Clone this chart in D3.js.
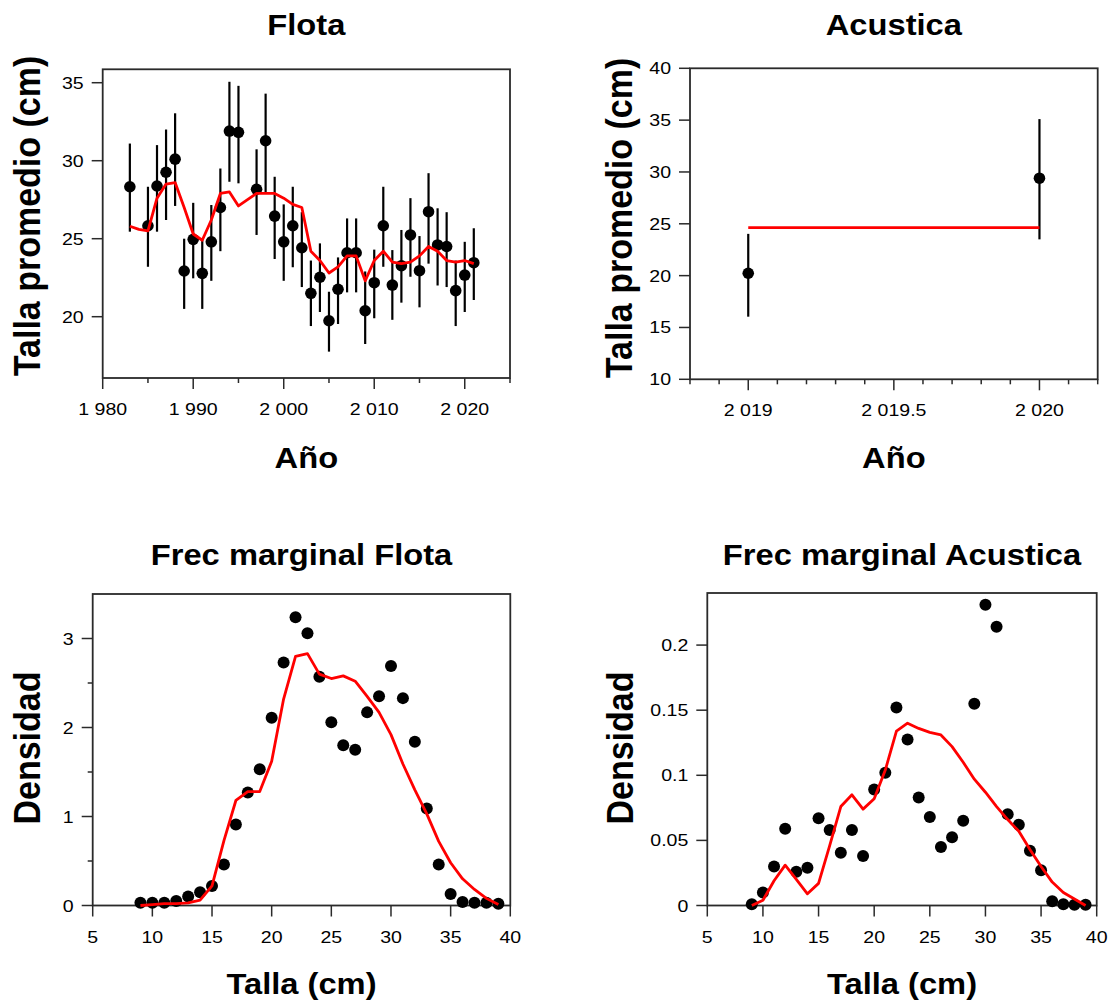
<!DOCTYPE html>
<html><head><meta charset="utf-8">
<script src="https://cdn.jsdelivr.net/npm/d3@7"></script>
<style>
body{margin:0;background:#fff}
svg{display:block}
text{font-family:"Liberation Sans",Arial,Helvetica,sans-serif;fill:#000}
</style></head>
<body><svg id="c" width="1113" height="1008"></svg>
<script>
// ---------- DATA ----------
const flotaYears = [1983,1985,1986,1987,1988,1989,1990,1991,1992,1993,1994,1995,1997,1998,1999,2000,2001,2002,2003,2004,2005,2006,2007,2008,2009,2010,2011,2012,2013,2014,2015,2016,2017,2018,2019,2020,2021];
const flotaMean  = [28.33,25.83,28.38,29.26,30.1,22.93,24.96,22.78,24.8,27.0,31.9,31.82,28.17,31.28,26.45,24.8,25.83,24.42,21.5,22.53,19.74,21.76,24.1,24.1,20.38,22.18,25.83,22.03,23.27,25.24,22.95,26.73,24.6,24.5,21.67,22.67,23.46];
const flotaUpper = [31.1,28.33,31.0,32.0,33.04,25.0,27.3,24.9,27.16,29.5,35.06,34.8,30.73,34.3,28.97,27.2,28.33,26.7,23.6,24.7,21.6,23.8,26.3,26.3,22.9,24.3,28.33,24.27,25.56,27.6,25.17,29.2,26.95,26.7,23.6,24.8,25.67];
const flotaLower = [25.45,23.2,25.45,26.2,27.1,20.5,22.46,20.5,22.3,24.2,28.65,28.55,25.24,27.9,23.7,22.3,23.17,21.9,19.4,20.3,17.76,19.53,21.56,21.56,18.25,19.9,23.2,19.8,20.9,22.56,20.6,23.4,22.0,21.9,19.4,20.3,21.07];
const flotaModelYears = [1983,1984,1985,1986,1987,1988,1989,1990,1991,1992,1993,1994,1995,1996,1997,1998,1999,2000,2001,2002,2003,2004,2005,2006,2007,2008,2009,2010,2011,2012,2013,2014,2015,2016,2017,2018,2019,2020,2021];
const flotaModel = [25.8,25.6,25.5,27.6,28.5,28.6,27.0,25.3,24.9,26.2,27.9,28.0,27.1,27.5,27.9,27.9,27.9,27.6,27.2,27.0,24.2,23.6,22.8,23.2,23.9,23.9,22.3,23.6,24.2,23.5,23.4,23.5,23.9,24.5,24.2,23.6,23.5,23.6,23.4];

const acuYears = [2019,2020];
const acuMean  = [20.23,29.4];
const acuUpper = [24.03,35.1];
const acuLower = [16.04,23.5];
const acuModel = [24.63,24.63];

const tallas = [9,10,11,12,13,14,15,16,17,18,19,20,21,22,23,24,25,26,27,28,29,30,31,32,33,34,35,36,37,38,39];
const flotaObs = [0.03,0.03,0.03,0.05,0.10,0.15,0.22,0.46,0.91,1.27,1.53,2.11,2.73,3.24,3.06,2.57,2.06,1.80,1.75,2.17,2.35,2.69,2.33,1.84,1.09,0.46,0.13,0.04,0.03,0.03,0.02];
const flotaFit = [0.00,0.01,0.02,0.02,0.03,0.06,0.22,0.73,1.18,1.28,1.28,1.62,2.32,2.80,2.83,2.60,2.55,2.58,2.52,2.35,2.17,1.92,1.59,1.30,1.03,0.72,0.48,0.30,0.18,0.08,0.01];
const acuObs = [0.001,0.010,0.030,0.059,0.026,0.029,0.067,0.058,0.0405,0.058,0.038,0.089,0.102,0.152,0.1275,0.083,0.068,0.045,0.0525,0.065,0.155,0.231,0.214,0.070,0.062,0.042,0.027,0.0033,0.001,0.0005,0.0005];
const acuFit = [0.000,0.004,0.019,0.031,0.020,0.009,0.017,0.046,0.076,0.085,0.074,0.082,0.104,0.134,0.140,0.136,0.133,0.131,0.122,0.110,0.097,0.087,0.076,0.066,0.057,0.043,0.030,0.018,0.010,0.005,0.000];

// tick values
const yearMajor = [1980,1990,2000,2010,2020];
const yearMinor = [1985,1995,2005,2015,2025];
const tallaPromTicksA = [20,25,30,35];
const acuYearMajor = [2019,2019.5,2020];
const acuYearMinor = [2018.8,2018.9,2019.1,2019.2,2019.3,2019.4,2019.6,2019.7,2019.8,2019.9,2020.1,2020.2];
const tallaPromTicksB = [10,15,20,25,30,35,40];
const tallaTicks = [5,10,15,20,25,30,35,40];
const densFlotaMajor = [0,1,2,3];
const densFlotaMinor = [0.5,1.5,2.5];
const densAcuMajor = [0,0.05,0.1,0.15,0.2];

// ---------- DRAW ----------
const svg = d3.select("#c");
const AX = "#2a2a2a";
const TICK_SX = 1.15, TITLE_SX = 1.09;

function spaced(v){
  const s = String(v);
  const parts = s.split(".");
  const ip = parts[0].replace(/\B(?=(\d{3})+(?!\d))/g, " ");
  return parts.length > 1 ? ip + "." + parts[1] : ip;
}

function panel(p){
  const x = d3.scaleLinear().domain(p.xDomain).range([p.left, p.right]);
  const y = d3.scaleLinear().domain(p.yDomain).range([p.bottom, p.top]);
  const g = svg.append("g");
  const ax = g.append("g");
  (p.xMinor||[]).forEach(v => ax.append("line").attr("x1",x(v)).attr("x2",x(v)).attr("y1",p.bottom).attr("y2",p.bottom+5).attr("stroke",AX).attr("stroke-width",1.5));
  p.xMajor.forEach(v => {
    ax.append("line").attr("x1",x(v)).attr("x2",x(v)).attr("y1",p.bottom).attr("y2",p.bottom+11).attr("stroke",AX).attr("stroke-width",1.5);
    ax.append("text").attr("transform",`translate(${x(v)},${p.bottom+37}) scale(${TICK_SX},1)`)
      .attr("text-anchor","middle").attr("font-size",17).attr("fill","#222").text(p.xFmt(v));
  });
  (p.yMinor||[]).forEach(v => ax.append("line").attr("x1",p.left-5).attr("x2",p.left).attr("y1",y(v)).attr("y2",y(v)).attr("stroke",AX).attr("stroke-width",1.5));
  p.yMajor.forEach(v => {
    ax.append("line").attr("x1",p.left-11).attr("x2",p.left).attr("y1",y(v)).attr("y2",y(v)).attr("stroke",AX).attr("stroke-width",1.5);
    ax.append("text").attr("transform",`translate(${p.left-19},${y(v)+6}) scale(${TICK_SX},1)`)
      .attr("text-anchor","end").attr("font-size",17).attr("fill","#222").text(p.yFmt(v));
  });
  g.append("rect").attr("x",p.left).attr("y",p.top).attr("width",p.right-p.left).attr("height",p.bottom-p.top)
    .attr("fill","none").attr("stroke",AX).attr("stroke-width",1.8);
  const cx = (p.left+p.right)/2;
  g.append("text").attr("transform",`translate(${cx},${p.titleY}) scale(${TITLE_SX},1)`)
    .attr("text-anchor","middle").attr("font-size",30).attr("font-weight","bold").text(p.title);
  g.append("text").attr("transform",`translate(${cx},${p.xTitleY}) scale(${TITLE_SX},1)`)
    .attr("text-anchor","middle").attr("font-size",30).attr("font-weight","bold").text(p.xTitle);
  g.append("text").attr("transform",`translate(${p.yTitleX},${p.yTitleCY}) rotate(-90) scale(1,${TITLE_SX})`)
    .attr("text-anchor","middle").attr("font-size",34).attr("font-weight","bold").text(p.yTitle);
  return {x,y,g};
}

function errPoints(P, xs, mean, lo, hi){
  P.g.append("g").selectAll("line").data(xs).join("line")
    .attr("x1",(d)=>P.x(d)).attr("x2",(d)=>P.x(d))
    .attr("y1",(d,i)=>P.y(lo[i])).attr("y2",(d,i)=>P.y(hi[i]))
    .attr("stroke","#000").attr("stroke-width",2.2);
  P.g.append("g").selectAll("circle").data(xs).join("circle")
    .attr("cx",(d)=>P.x(d)).attr("cy",(d,i)=>P.y(mean[i])).attr("r",5.8).attr("fill","#000");
}
function points(P, xs, vals){
  P.g.append("g").selectAll("circle").data(xs).join("circle")
    .attr("cx",(d)=>P.x(d)).attr("cy",(d,i)=>P.y(vals[i])).attr("r",6).attr("fill","#000");
}
function redLine(P, xs, vals){
  P.g.append("path").datum(xs)
    .attr("d", d3.line().x(d=>P.x(d)).y((d,i)=>P.y(vals[i])))
    .attr("fill","none").attr("stroke","#ff0000").attr("stroke-width",2.8).attr("stroke-linejoin","round");
}

// Panel 1: Flota
const P1 = panel({left:102.7,right:510,top:69.3,bottom:378,
  xDomain:[1980,2025], yDomain:[16.07,35.86],
  xMajor:yearMajor, xMinor:yearMinor, yMajor:tallaPromTicksA,
  xFmt:spaced, yFmt:String,
  title:"Flota", titleY:35, xTitle:"Año", xTitleY:468, yTitle:"Talla promedio (cm)", yTitleX:40, yTitleCY:216});
errPoints(P1, flotaYears, flotaMean, flotaLower, flotaUpper);
redLine(P1, flotaModelYears, flotaModel);

// Panel 2: Acustica
const P2 = panel({left:690,right:1097.7,top:68.3,bottom:379.3,
  xDomain:[2018.8,2020.2], yDomain:[10,40],
  xMajor:acuYearMajor, xMinor:acuYearMinor, yMajor:tallaPromTicksB,
  xFmt:spaced, yFmt:String,
  title:"Acustica", titleY:35, xTitle:"Año", xTitleY:468, yTitle:"Talla promedio (cm)", yTitleX:632, yTitleCY:218});
errPoints(P2, acuYears, acuMean, acuLower, acuUpper);
redLine(P2, acuYears, acuModel);

// Panel 3: Frec marginal Flota
const P3 = panel({left:92.7,right:510.3,top:594,bottom:905.5,
  xDomain:[5,40], yDomain:[0,3.5],
  xMajor:tallaTicks, yMajor:densFlotaMajor, yMinor:densFlotaMinor,
  xFmt:String, yFmt:String,
  title:"Frec marginal Flota", titleY:565, xTitle:"Talla (cm)", xTitleY:994, yTitle:"Densidad", yTitleX:40, yTitleCY:748});
points(P3, tallas, flotaObs);
redLine(P3, tallas, flotaFit);

// Panel 4: Frec marginal Acustica
const P4 = panel({left:707.3,right:1096.7,top:593,bottom:905.5,
  xDomain:[5,40], yDomain:[0,0.24],
  xMajor:tallaTicks, yMajor:densAcuMajor,
  xFmt:String, yFmt:(v)=>String(v),
  title:"Frec marginal Acustica", titleY:565, xTitle:"Talla (cm)", xTitleY:994, yTitle:"Densidad", yTitleX:633, yTitleCY:748});
points(P4, tallas, acuObs);
redLine(P4, tallas, acuFit);
</script></body></html>
